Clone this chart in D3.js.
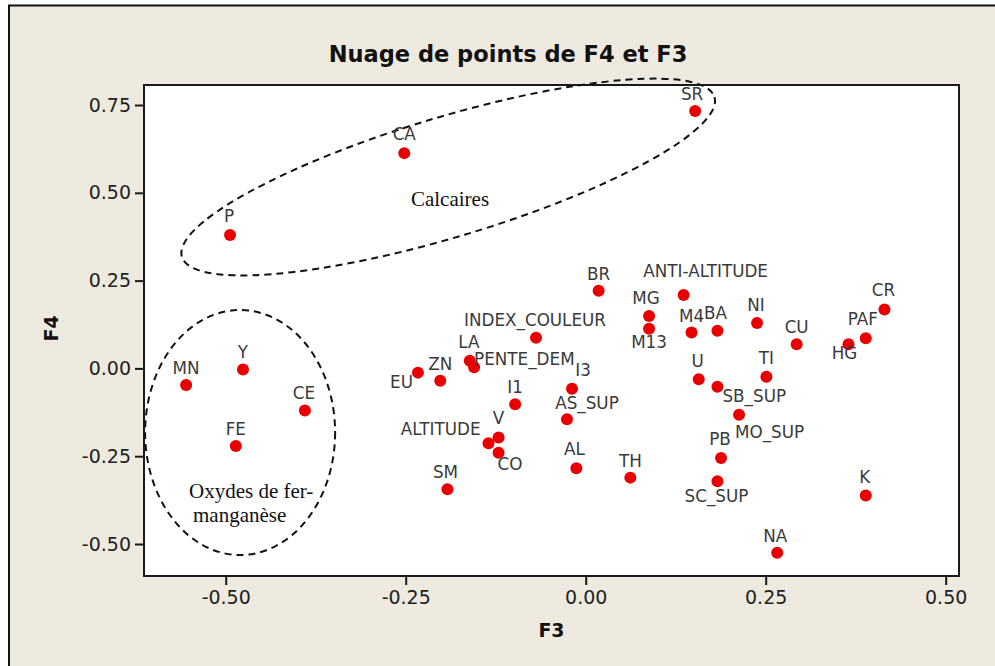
<!DOCTYPE html>
<html>
<head>
<meta charset="utf-8">
<script src="https://cdn.jsdelivr.net/npm/d3@7"></script>
<style>
  body { margin: 0; background: #fff; }
  svg { display: block; }
</style>
</head>
<body>
<svg id="chart" width="995" height="666"></svg>
<script>
// variable names and their coordinates on F3 (x) and F4 (y)
const names = ['SR', 'CA', 'P', 'BR', 'ANTI-ALTITUDE', 'MG', 'M13', 'M4', 'BA', 'NI',
    'CU', 'HG', 'PAF', 'CR', 'INDEX_COULEUR', 'LA', 'PENTE_DEM', 'EU', 'ZN', 'MN',
    'Y', 'CE', 'FE', 'I3', 'I1', 'AS_SUP', 'V', 'ALTITUDE', 'CO', 'AL',
    'TH', 'SM', 'U', 'SB_SUP', 'TI', 'MO_SUP', 'PB', 'SC_SUP', 'K', 'NA'];
const f3 = [0.152, -0.252, -0.494, 0.018, 0.136, 0.088, 0.088, 0.147, 0.183, 0.238,
    0.293, 0.365, 0.389, 0.415, -0.069, -0.161, -0.155, -0.233, -0.202, -0.555,
    -0.476, -0.390, -0.486, -0.019, -0.098, -0.026, -0.121, -0.135, -0.121, -0.013,
    0.062, -0.192, 0.157, 0.183, 0.251, 0.213, 0.188, 0.183, 0.389, 0.266];
const f4 = [0.733, 0.613, 0.380, 0.221, 0.209, 0.149, 0.113, 0.102, 0.107, 0.129,
    0.069, 0.069, 0.086, 0.168, 0.087, 0.022, 0.003, -0.012, -0.035, -0.047,
    -0.003, -0.120, -0.221, -0.058, -0.102, -0.145, -0.197, -0.213, -0.240, -0.284,
    -0.311, -0.344, -0.031, -0.052, -0.024, -0.132, -0.255, -0.321, -0.362, -0.525];
const xTicks = [-0.5, -0.25, 0, 0.25, 0.5];
const yTicks = [-0.5, -0.25, 0, 0.25, 0.5, 0.75];

// group annotations (centres in data units)
const groups = [
    {cx: -0.191, cy: 0.545, rx: 278, ry: 60, angle: -16.7},
    {cx: -0.480, cy: -0.1825, rx: 95, ry: 122.5, angle: 0}
];

// label placement around each dot: [dx, dy, anchor]
const labelPos = {
    'SR': [-3, -11], 'CA': [0, -13], 'P': [-1, -13], 'ANTI-ALTITUDE': [22, -18],
    'MG': [-3, -12], 'M13': [0, 19], 'BA': [-2, -12], 'NI': [-1, -12],
    'HG': [-4, 15], 'PAF': [-3, -13], 'CR': [-1, -13], 'INDEX_COULEUR': [-1, -12],
    'LA': [-1, -13], 'PENTE_DEM': [0, -2, 'start'], 'EU': [-5, 15, 'end'],
    'CE': [-1, -12], 'I3': [11, -13], 'AS_SUP': [20, -10], 'V': [0, -14],
    'ALTITUDE': [-8, -8, 'end'], 'CO': [-1, 17, 'start'], 'AL': [-2, -13],
    'SM': [-2, -11], 'U': [-1, -12], 'TI': [0, -13], 'SB_SUP': [5, 15, 'start'],
    'MO_SUP': [-4, 23, 'start'], 'PB': [-1, -13], 'SC_SUP': [-1, 21],
    'K': [-1, -13], 'NA': [-2, -11]
};

const svg = d3.select('#chart');
const font = '"DejaVu Sans", Verdana, sans-serif';

// outer panel
svg.append('rect')
    .attr('x', 8).attr('y', 5).attr('width', 995).attr('height', 670)
    .attr('fill', '#eeeadf');
svg.append('path')
    .attr('d', 'M9,666V5.5H995')
    .attr('fill', 'none').attr('stroke', '#111').attr('stroke-width', 2);

const plot = {left: 144, right: 959, top: 85, bottom: 576};

const x = d3.scaleLinear()
    .domain([-0.6135, 0.5185])
    .range([plot.left, plot.right]);
const y = d3.scaleLinear()
    .domain([-0.5911, 0.8070])
    .range([plot.bottom, plot.top]);

svg.append('rect')
    .attr('x', plot.left).attr('y', plot.top)
    .attr('width', plot.right - plot.left).attr('height', plot.bottom - plot.top)
    .attr('fill', '#fff').attr('stroke', '#1a1a1a').attr('stroke-width', 2);

const fmt = v => v.toFixed(2);

const xAxis = svg.append('g')
    .attr('transform', `translate(0,${plot.bottom})`)
    .call(d3.axisBottom(x).tickValues(xTicks).tickFormat(fmt).tickSize(9).tickPadding(6));
const yAxis = svg.append('g')
    .attr('transform', `translate(${plot.left},0)`)
    .call(d3.axisLeft(y).tickValues(yTicks).tickFormat(fmt).tickSize(9).tickPadding(4));

[xAxis, yAxis].forEach(ax => {
    ax.select('.domain').remove();
    ax.selectAll('line').attr('stroke', '#1a1a1a').attr('stroke-width', 2);
    ax.selectAll('text')
        .attr('fill', '#222')
        .style('font-family', font)
        .style('font-size', '19px');
});

// title and axis titles
svg.append('text')
    .attr('x', 508).attr('y', 62)
    .attr('text-anchor', 'middle')
    .style('font-family', font).style('font-size', '22.5px').style('font-weight', 'bold')
    .attr('fill', '#111')
    .text('Nuage de points de F4 et F3');
svg.append('text')
    .attr('x', (plot.left + plot.right) / 2).attr('y', 637)
    .attr('text-anchor', 'middle')
    .style('font-family', font).style('font-size', '19px').style('font-weight', 'bold')
    .attr('fill', '#111')
    .text('F3');
svg.append('text')
    .attr('transform', `translate(58,${(plot.top + plot.bottom) / 2 - 2}) rotate(-90)`)
    .attr('text-anchor', 'middle')
    .style('font-family', font).style('font-size', '19px').style('font-weight', 'bold')
    .attr('fill', '#111')
    .text('F4');

// dashed ellipses around the groups
svg.append('g')
    .selectAll('ellipse')
    .data(groups)
    .enter()
    .append('ellipse')
    .attr('transform', d => `translate(${x(d.cx)},${y(d.cy)}) rotate(${d.angle})`)
    .attr('rx', d => d.rx)
    .attr('ry', d => d.ry)
    .attr('fill', 'none')
    .attr('stroke', '#111')
    .attr('stroke-width', 2)
    .attr('stroke-dasharray', '7 5');

const serif = '"Liberation Serif", "Times New Roman", serif';
const notes = svg.append('g')
    .style('font-family', serif).style('font-size', '21px').attr('fill', '#111');
notes.append('text').attr('x', 450).attr('y', 206).attr('text-anchor', 'middle').text('Calcaires');
notes.append('text').attr('x', 189).attr('y', 498).text('Oxydes de fer-');
notes.append('text').attr('x', 193).attr('y', 522).text('manganèse');

// points
const points = names.map((n, i) => ({name: n, f3: f3[i], f4: f4[i]}));

svg.append('g')
    .selectAll('circle')
    .data(points)
    .enter()
    .append('circle')
    .attr('cx', d => x(d.f3))
    .attr('cy', d => y(d.f4))
    .attr('r', 6)
    .attr('fill', '#e80000');

svg.append('g')
    .selectAll('text')
    .data(points)
    .enter()
    .append('text')
    .attr('x', d => x(d.f3) + (labelPos[d.name] || [0])[0])
    .attr('y', d => y(d.f4) + (labelPos[d.name] || [0, -11])[1])
    .attr('text-anchor', d => (labelPos[d.name] || [])[2] || 'middle')
    .style('font-family', font)
    .style('font-size', '16.8px')
    .attr('fill', '#3a3a3a')
    .text(d => d.name);
</script>
</body>
</html>
